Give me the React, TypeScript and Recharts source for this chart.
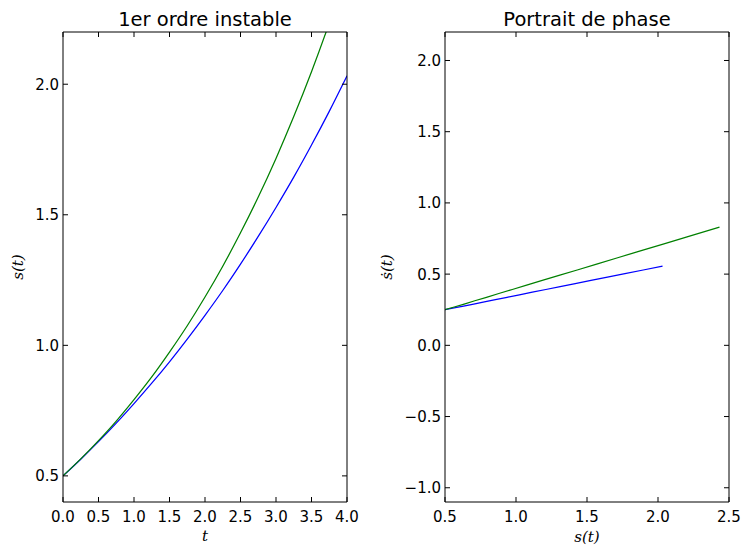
import { LineChart, Line, XAxis, YAxis } from "recharts";

// temps et valeurs
const tVals = [0, 0.25, 0.5, 0.75, 1, 1.25, 1.5, 1.75, 2, 2.25, 2.5, 2.75, 3, 3.25, 3.5, 3.75, 4];
const sBlue = [0.5, 0.564, 0.631, 0.702, 0.777, 0.855, 0.937, 1.024, 1.115, 1.21, 1.311, 1.417, 1.528, 1.644, 1.767, 1.896, 2.032];
const sGreen = [0.5, 0.565, 0.635, 0.71, 0.792, 0.879, 0.974, 1.075, 1.185, 1.303, 1.431, 1.568, 1.716, 1.876, 2.048, 2.234, 2.433];
const dsBlue = [0.25, 0.263, 0.276, 0.29, 0.305, 0.321, 0.337, 0.355, 0.373, 0.392, 0.412, 0.433, 0.456, 0.479, 0.503, 0.529, 0.556];
const dsGreen = [0.25, 0.269, 0.29, 0.313, 0.337, 0.364, 0.392, 0.423, 0.456, 0.491, 0.529, 0.57, 0.615, 0.663, 0.714, 0.77, 0.83];

const tTicks = [0, 0.5, 1, 1.5, 2, 2.5, 3, 3.5, 4];
const sTicksLeft = [0.5, 1, 1.5, 2];
const sTicksRight = [0.5, 1, 1.5, 2, 2.5];
const dsTicks = [-1, -0.5, 0, 0.5, 1, 1.5, 2];

const timeData = tVals.map((t, i) => ({ t, blue: sBlue[i], green: sGreen[i] }));
const phaseBlue = sBlue.map((s, i) => ({ s, ds: dsBlue[i] }));
const phaseGreen = sGreen.map((s, i) => ({ s, ds: dsGreen[i] }));

const FONT = "'DejaVu Sans', sans-serif";
const MATH = "'DejaVu Serif', serif";
const TL = 5;

const fmt = (v: number) => v.toFixed(1).replace("-", "\u2212");

function BottomTick({ x, y, payload }: any) {
  return (
    <g>
      <line x1={x} x2={x} y1={y} y2={y - TL} stroke="#000" />
      <text x={x} y={y + 20} textAnchor="middle" fontSize={15} fontFamily={FONT} fill="#000">{fmt(payload.value)}</text>
    </g>
  );
}
function TopTick({ x, y }: any) {
  return <line x1={x} x2={x} y1={y} y2={y + TL} stroke="#000" />;
}
function LeftTick({ x, y, payload }: any) {
  return (
    <g>
      <line x1={x} x2={x + TL} y1={y} y2={y} stroke="#000" />
      <text x={x - 4} y={y + 5.5} textAnchor="end" fontSize={15} fontFamily={FONT} fill="#000">{fmt(payload.value)}</text>
    </g>
  );
}
function RightTick({ x, y }: any) {
  return <line x1={x} x2={x - TL} y1={y} y2={y} stroke="#000" />;
}

const axisLine = { stroke: "#000", strokeWidth: 1 };

export default function App() {
  return (
    <div style={{ position: "absolute", left: 0, top: 0, width: 745, height: 547, background: "#fff" }}>
      <div style={{ position: "absolute", left: 0, top: 0 }}>
        <LineChart width={370} height={547} data={timeData} margin={{ top: 31, right: 22, bottom: 0, left: 0 }}>
          <XAxis dataKey="t" type="number" domain={[0, 4]} ticks={tTicks} allowDataOverflow height={45}
            axisLine={axisLine} tickLine={false} tickSize={0} tickMargin={0} tick={(p: any) => <BottomTick {...p} />} />
          <XAxis xAxisId="top" orientation="top" dataKey="t" type="number" domain={[0, 4]} ticks={tTicks} allowDataOverflow height={1}
            axisLine={axisLine} tickLine={false} tickSize={0} tickMargin={0} tick={(p: any) => <TopTick {...p} />} />
          <YAxis type="number" domain={[0.4, 2.2]} ticks={sTicksLeft} allowDataOverflow width={63}
            axisLine={axisLine} tickLine={false} tickSize={0} tickMargin={0} tick={(p: any) => <LeftTick {...p} />} />
          <YAxis yAxisId="right" orientation="right" type="number" domain={[0.4, 2.2]} ticks={sTicksLeft} allowDataOverflow width={1}
            axisLine={axisLine} tickLine={false} tickSize={0} tickMargin={0} tick={(p: any) => <RightTick {...p} />} />
          <Line type="monotone" dataKey="blue" stroke="#0000ff" strokeWidth={1.25} dot={false} isAnimationActive={false} />
          <Line type="monotone" dataKey="green" stroke="#008000" strokeWidth={1.25} dot={false} isAnimationActive={false} />
          <Line xAxisId="top" yAxisId="right" dataKey="blue" stroke="none" dot={false} activeDot={false} isAnimationActive={false} />
        </LineChart>
      </div>
      <div style={{ position: "absolute", left: 370, top: 0 }}>
        <LineChart width={375} height={547} margin={{ top: 31, right: 15, bottom: 0, left: 0 }}>
          <XAxis dataKey="s" type="number" domain={[0.5, 2.5]} ticks={sTicksRight} allowDataOverflow height={45}
            axisLine={axisLine} tickLine={false} tickSize={0} tickMargin={0} tick={(p: any) => <BottomTick {...p} />} />
          <XAxis xAxisId="top" orientation="top" dataKey="s" type="number" domain={[0.5, 2.5]} ticks={sTicksRight} allowDataOverflow height={1}
            axisLine={axisLine} tickLine={false} tickSize={0} tickMargin={0} tick={(p: any) => <TopTick {...p} />} />
          <YAxis dataKey="ds" type="number" domain={[-1.1, 2.2]} ticks={dsTicks} allowDataOverflow width={75}
            axisLine={axisLine} tickLine={false} tickSize={0} tickMargin={0} tick={(p: any) => <LeftTick {...p} />} />
          <YAxis yAxisId="right" orientation="right" type="number" domain={[-1.1, 2.2]} ticks={dsTicks} allowDataOverflow width={1}
            axisLine={axisLine} tickLine={false} tickSize={0} tickMargin={0} tick={(p: any) => <RightTick {...p} />} />
          <Line data={phaseBlue} dataKey="ds" stroke="#0000ff" strokeWidth={1.25} dot={false} isAnimationActive={false} />
          <Line data={phaseGreen} dataKey="ds" stroke="#008000" strokeWidth={1.25} dot={false} isAnimationActive={false} />
          <Line data={phaseBlue} xAxisId="top" yAxisId="right" dataKey="ds" stroke="none" dot={false} activeDot={false} isAnimationActive={false} />
        </LineChart>
      </div>
      <svg width={745} height={547} style={{ position: "absolute", left: 0, top: 0, pointerEvents: "none" }}>
        <text x={205} y={26} textAnchor="middle" fontSize={19.5} fontFamily={FONT} fill="#000">1er ordre instable</text>
        <text x={587} y={26} textAnchor="middle" fontSize={19.5} fontFamily={FONT} fill="#000">Portrait de phase</text>
        <text x={205} y={541} textAnchor="middle" fontSize={15} fontStyle="italic" fontFamily={MATH} fill="#000">t</text>
        <text x={587} y={542} textAnchor="middle" fontSize={15} fontStyle="italic" fontFamily={MATH} fill="#000">s(t)</text>
        <text transform="translate(23,267) rotate(-90)" textAnchor="middle" fontSize={15} fontStyle="italic" fontFamily={MATH} fill="#000">s(t)</text>
        <text transform="translate(392,267) rotate(-90)" textAnchor="middle" fontSize={15} fontStyle="italic" fontFamily={MATH} fill="#000">{"\u1E61(t)"}</text>
      </svg>
    </div>
  );
}
